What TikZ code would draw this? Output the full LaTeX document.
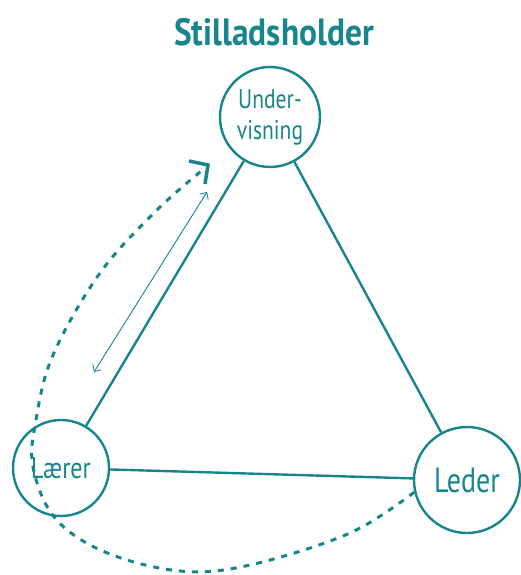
\documentclass[tikz,border=0pt]{standalone}
\usepackage{fontspec}
\setmainfont{PT Sans}
\newfontfamily\titlefont[FakeStretch=0.88]{PT Sans Bold}
\newfontfamily\labelfont[FakeStretch=0.8]{PT Sans}
\usetikzlibrary{arrows.meta}
\definecolor{teal1}{RGB}{22,134,140}
\tikzset{
  circ/.style={circle, draw=teal1, line width=2.4pt, text=teal1, inner sep=0pt, font=\labelfont, align=center},
  edge/.style={draw=teal1, line width=2.4pt},
  thinarrow/.style={draw=teal1, line width=0.9pt, {Straight Barb[length=5pt,width=10pt]}-{Straight Barb[length=5pt,width=10pt]}},
  dashline/.style={draw=teal1, line width=3pt, dash pattern=on 6pt off 7pt},
  chevron/.style={draw=teal1, line width=3.5pt, line join=miter}
}
\begin{document}
\begin{tikzpicture}[x=1pt,y=-1pt]
\useasboundingbox (0,0) rectangle (521,575);
\node[text=teal1, font=\titlefont\fontsize{38}{40}\selectfont] (title) at (274,32) {Stilladsholder};
\node[circ, minimum size=100pt, font=\labelfont\fontsize{27}{31}\selectfont] (und) at (270,117) {Under-\\visning};
\node[circ, minimum size=96pt, font=\labelfont\fontsize{30}{31}\selectfont] (laer) at (61,468) {Lærer};
\node[circ, minimum size=106pt, font=\labelfont\fontsize{35}{36}\selectfont] (led) at (467,480) {Leder};
\draw[edge] (und) -- (laer);
\draw[edge] (und) -- (led);
\draw[edge] (laer) -- (led);
\coordinate (a1) at (94,372);
\coordinate (a2) at (207,192);
\draw[thinarrow] (a1) -- (a2);
\coordinate (tip) at (208,165);
\coordinate (tipL) at (189,161);
\coordinate (tipR) at (205,184);
\draw[dashline] plot[smooth, tension=0.6] coordinates {(led.193) (350,533) (250,565) (180,571) (105,552) (55,518) (33,467) (36,420) (53,355) (100,273) (157,210) (205,168)};
\draw[chevron] (tipL) -- (tip) -- (tipR);
\end{tikzpicture}
\end{document}
